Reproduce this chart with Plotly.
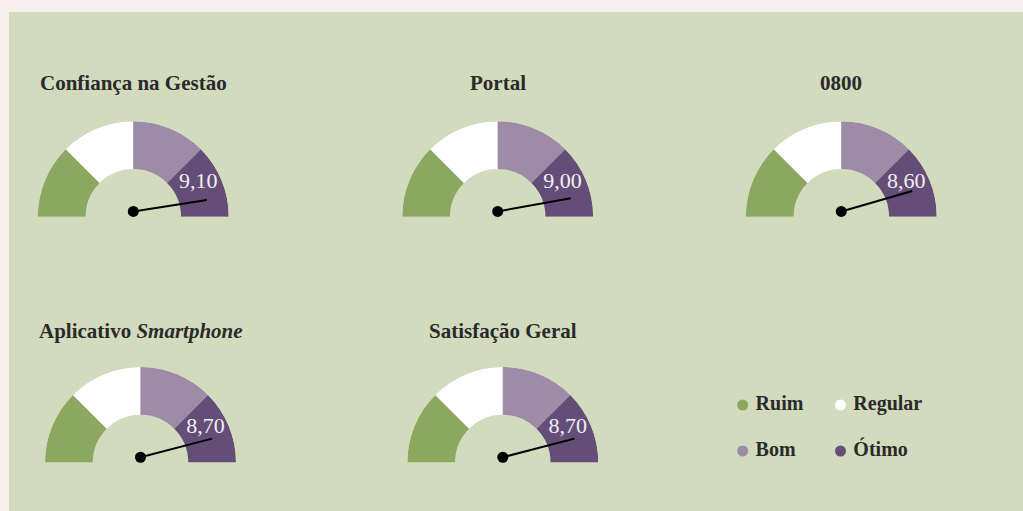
import plotly.graph_objects as go

# dados
titles = ["Confiança na Gestão", "Portal", "0800",
          "Aplicativo <i>Smartphone</i>", "Satisfação Geral"]
scores = [9.10, 9.00, 8.60, 8.70, 8.70]
bands = ["Ruim", "Regular", "Bom", "Ótimo"]
band_colors = ["#8ca75f", "#ffffff", "#9e8ba7", "#644e78"]

# layout em pixels
W, H = 1023, 511
R = 95.5
centers = [(133.3, 216.7), (497.7, 216.7), (841.3, 216.7),
           (140.5, 462.5), (502.8, 462.5)]
title_y = [83, 83, 83, 331, 331]
FONT = "Liberation Serif"
TXT = "#2a2a2a"

NEEDLE_DEG_PER_POINT = 14.2
SCALE_MAX = 10
PIVOT_R = 0.055
NEEDLE_R = 0.79

n = len(bands)
span = 180 / n
band_theta = [180 - span * (k + 0.5) for k in range(n)]

fig = go.Figure()
polars = {}
annotations = []

for i, (title, v) in enumerate(zip(titles, scores)):
    key = "polar" if i == 0 else "polar%d" % (i + 1)
    cx, cy = centers[i]
    polars[key] = dict(
        domain=dict(x=[(cx - R) / W, (cx + R) / W],
                    y=[1 - cy / H, 1 - (cy - R) / H]),
        sector=[0, 180],
        bgcolor="rgba(0,0,0,0)",
        bargap=0,
        radialaxis=dict(visible=False, range=[0, 1]),
        angularaxis=dict(visible=False),
    )
    fig.add_trace(go.Barpolar(
        r=[0.5] * n, base=0.5, theta=band_theta, width=[span] * n,
        marker=dict(color=band_colors, line=dict(width=0)),
        subplot=key, showlegend=False, hoverinfo="skip"))

    angle = NEEDLE_DEG_PER_POINT * (SCALE_MAX - v)
    fig.add_trace(go.Scatterpolar(
        r=[PIVOT_R, NEEDLE_R], theta=[90, angle], mode="lines",
        line=dict(color="black", width=2),
        subplot=key, showlegend=False, hoverinfo="skip"))
    fig.add_trace(go.Scatterpolar(
        r=[PIVOT_R], theta=[90], mode="markers",
        marker=dict(color="black", size=11),
        subplot=key, showlegend=False, hoverinfo="skip"))
    fig.add_trace(go.Scatterpolar(
        r=[0.77], theta=[28], mode="text",
        text=[("%.2f" % v).replace(".", ",")],
        textfont=dict(family=FONT, size=22, color="#f3eef3"),
        subplot=key, showlegend=False, hoverinfo="skip"))

    annotations.append(dict(
        x=cx / W, y=1 - title_y[i] / H, xref="paper", yref="paper",
        text="<b>%s</b>" % title, showarrow=False,
        xanchor="center", yanchor="middle",
        font=dict(family=FONT, size=21, color=TXT)))

# legenda
fig.add_trace(go.Scatter(
    x=[0, 1, 0, 1], y=[1, 1, 0, 0], mode="markers+text",
    text=[" " + b for b in bands], textposition="middle right",
    textfont=dict(family=FONT, size=20, color=TXT, weight="bold"),
    marker=dict(color=band_colors, size=11),
    cliponaxis=False, showlegend=False, hoverinfo="skip"))

fig.update_layout(
    width=W, height=H,
    margin=dict(l=0, r=0, t=0, b=0),
    paper_bgcolor="#f5f0ee",
    plot_bgcolor="rgba(0,0,0,0)",
    xaxis=dict(domain=[742.7 / W, 840.5 / W], range=[0, 1], visible=False),
    yaxis=dict(domain=[1 - 451 / H, 1 - 405 / H], range=[0, 1], visible=False),
    shapes=[dict(type="rect", xref="paper", yref="paper",
                 x0=9 / W, x1=1, y0=0, y1=1 - 12 / H,
                 fillcolor="#d3dbbe", line=dict(width=0), layer="below")],
    annotations=annotations,
    **polars,
)

fig.write_html("out.html",
               config={"displayModeBar": False},
               post_script="document.body.style.margin='0';"
                           "document.body.style.background='#f5f0ee';")
